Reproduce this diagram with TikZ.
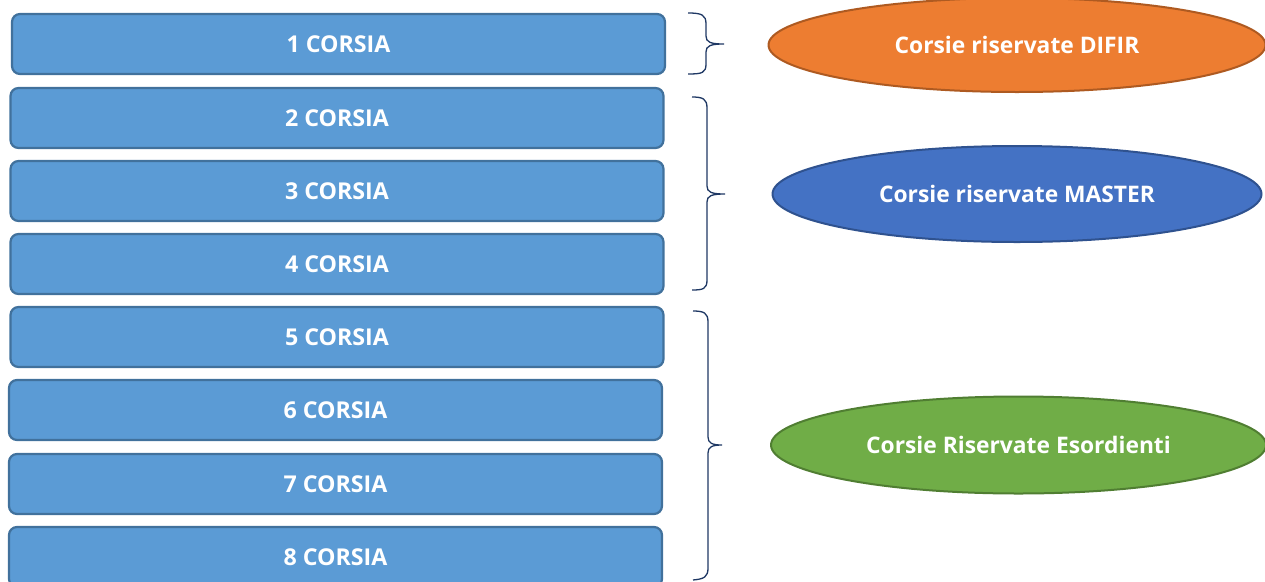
\documentclass[tikz,border=0pt]{standalone}
\usepackage{fontspec}
\setmainfont{Open Sans}
\usetikzlibrary{shapes.geometric}
\definecolor{boxfill}{HTML}{5B9BD5}
\definecolor{boxline}{HTML}{41719C}
\definecolor{orfill}{HTML}{ED7D31}
\definecolor{orline}{HTML}{AE5A21}
\definecolor{blfill}{HTML}{4472C4}
\definecolor{blline}{HTML}{2F528F}
\definecolor{grfill}{HTML}{70AD47}
\definecolor{grline}{HTML}{507E32}
\definecolor{bracecol}{HTML}{1F3864}
\tikzset{
  lane/.style={draw=boxline, fill=boxfill, line width=2.2pt, rounded corners=8pt,
    minimum width=653pt, minimum height=60pt, inner sep=0pt, outer sep=0pt,
    text=white, font=\fontsize{23.2}{26}\selectfont\bfseries},
  group/.style={ellipse, line width=2pt, inner sep=0pt, outer sep=0pt,
    text=white, font=\fontsize{22.8}{26}\selectfont\bfseries},
  bracestyle/.style={draw=bracecol, line width=1.3pt}
}
\begin{document}
\begin{tikzpicture}[x=1pt,y=-1pt]
\useasboundingbox (0,0) rectangle (1265,581);
\node[lane] (c1) at (338.5,44) {1 CORSIA};
\node[lane] (c2) at (337,118) {2 CORSIA};
\node[lane] (c3) at (337,191) {3 CORSIA};
\node[lane] (c4) at (337,264) {4 CORSIA};
\node[lane] (c5) at (337,337) {5 CORSIA};
\node[lane] (c6) at (335.5,410) {6 CORSIA};
\node[lane] (c7) at (335.5,484) {7 CORSIA};
\node[lane] (c8) at (335.5,557) {8 CORSIA};

\node[group, draw=orline, fill=orfill, minimum width=497pt, minimum height=94pt] (difir) at (1017,45) {Corsie riservate DIFIR};
\node[group, draw=blline, fill=blfill, minimum width=489pt, minimum height=96pt] (master) at (1017,194) {Corsie riservate MASTER};
\node[group, draw=grline, fill=grfill, minimum width=495pt, minimum height=97pt] (esord) at (1018.5,445) {Corsie Riservate Esordienti};

% braces
\draw[bracestyle] (688,13) .. controls (702,13) and (706,15) .. (706,24) -- (706,36)
  .. controls (706,42) and (710,44) .. (724,44)
  .. controls (710,44) and (706,46) .. (706,52) -- (706,64)
  .. controls (706,73) and (702,74) .. (688,74);
\draw[bracestyle] (692,97) .. controls (703,97) and (707,99) .. (707,108) -- (707,186)
  .. controls (707,192) and (711,194) .. (725,194)
  .. controls (711,194) and (707,196) .. (707,202) -- (707,280)
  .. controls (707,289) and (703,290) .. (692,290);
\draw[bracestyle] (693,311) .. controls (704,311) and (708,313) .. (708,322) -- (708,437)
  .. controls (708,443) and (712,445) .. (722,445)
  .. controls (712,445) and (708,447) .. (708,453) -- (708,568)
  .. controls (708,577) and (704,579) .. (693,580);
\end{tikzpicture}
\end{document}
